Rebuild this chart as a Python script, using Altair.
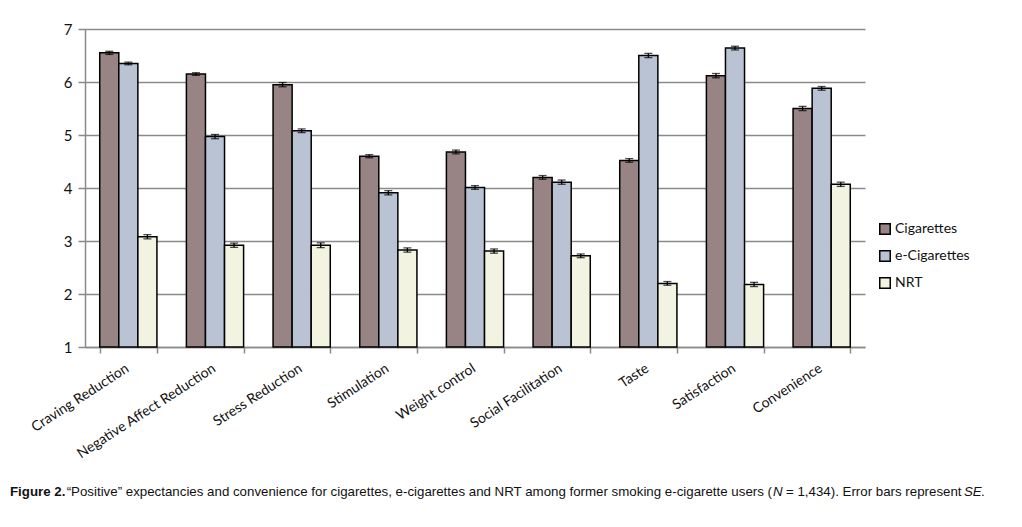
import altair as alt
import pandas as pd

categories = ["Craving Reduction", "Negative Affect Reduction", "Stress Reduction",
              "Stimulation", "Weight control", "Social Facilitation", "Taste",
              "Satisfaction", "Convenience"]
series = ["Cigarettes", "e-Cigarettes", "NRT"]
cigarettes = [6.55, 6.15, 5.95, 4.60, 4.68, 4.20, 4.52, 6.12, 5.50]
e_cigarettes = [6.35, 4.97, 5.08, 3.91, 4.01, 4.11, 6.50, 6.64, 5.88]
nrt = [3.08, 2.92, 2.92, 2.83, 2.81, 2.72, 2.20, 2.18, 4.07]
se_cig = [0.03, 0.025, 0.04, 0.03, 0.035, 0.035, 0.035, 0.04, 0.04]
se_ecig = [0.025, 0.04, 0.035, 0.04, 0.035, 0.04, 0.04, 0.035, 0.035]
se_nrt = [0.04, 0.04, 0.045, 0.04, 0.04, 0.035, 0.035, 0.04, 0.04]

rows = []
for s, vals, ses in zip(series, [cigarettes, e_cigarettes, nrt], [se_cig, se_ecig, se_nrt]):
    for c, v, e in zip(categories, vals, ses):
        rows.append({"category": c, "series": s, "value": v, "lo": v - e, "hi": v + e})
df = pd.DataFrame(rows)

FONT = "Lato"
W, H = 780, 318

xenc = alt.X("category:N", sort=categories, title=None,
             scale=alt.Scale(paddingInner=0.34, paddingOuter=0.17),
             axis=alt.Axis(labelAngle=-33, labelAlign="right", labelBaseline="top",
                           labelFontSize=14, labelFont=FONT, labelColor="#111",
                           tickBand="extent", tickSize=6, tickColor="#8a8a8a",
                           domainColor="#8a8a8a", domainWidth=1.5, tickWidth=1.5,
                           labelPadding=8, labelOffset=-5, grid=False, labelLimit=300))
xoff = alt.XOffset("series:N", sort=series)

bars = alt.Chart(df).mark_bar(stroke="black", strokeWidth=1.5).encode(
    x=xenc,
    xOffset=xoff,
    y=alt.Y("value:Q", title=None,
            scale=alt.Scale(domain=[1, 7], nice=False, zero=False),
            axis=alt.Axis(values=[1, 2, 3, 4, 5, 6, 7], labelFontSize=15, labelFont=FONT,
                          labelColor="#111", tickSize=7, tickColor="#8a8a8a", tickWidth=1.5,
                          domainColor="#8a8a8a", domainWidth=1.5, gridColor="#8a8a8a",
                          gridWidth=1.5, labelPadding=6)),
    y2=alt.datum(1),
    fill=alt.Fill("series:N", sort=series,
                  scale=alt.Scale(domain=series, range=["#988484", "#b9c3d3", "#f2f4e1"]),
                  legend=alt.Legend(title=None, orient="none", legendX=793, legendY=193,
                                    symbolType="square", symbolSize=110,
                                    symbolStrokeColor="black", symbolStrokeWidth=1.5,
                                    labelFontSize=14, labelFont=FONT, labelColor="#111",
                                    rowPadding=9, labelOffset=3)),
)

err = alt.Chart(df).mark_rule(color="black", strokeWidth=1.3).encode(
    x=alt.X("category:N", sort=categories), xOffset=xoff,
    y="lo:Q", y2="hi:Q")
cap_lo = alt.Chart(df).mark_tick(color="black", thickness=1.3, size=8, orient="horizontal").encode(
    x=alt.X("category:N", sort=categories), xOffset=xoff, y="lo:Q")
cap_hi = alt.Chart(df).mark_tick(color="black", thickness=1.3, size=8, orient="horizontal").encode(
    x=alt.X("category:N", sort=categories), xOffset=xoff, y="hi:Q")

cap_y = 492 - 29
cap_font = "Liberation Sans"
def cap(text, x, align="left", weight="normal", style="normal"):
    return alt.Chart(pd.DataFrame({"t": [text]})).mark_text(
        align=align, baseline="middle", fontSize=13.3, font=cap_font,
        fontWeight=weight, fontStyle=style, color="#111"
    ).encode(x=alt.value(x), y=alt.value(cap_y), text="t:N")

caption = (
    cap("Figure 2.", 10 - 85, weight="bold")
    + cap("\u201cPositive\u201d expectancies and convenience for cigarettes, e-cigarettes and NRT among former smoking e-cigarette users (", 772 - 85, align="right")
    + cap("N", 773 - 85, style="italic")
    + cap("= 1,434). Error bars represent", 786 - 85)
    + cap("SE", 964 - 85, style="italic")
    + cap(".", 981 - 85)
)

chart = alt.layer(bars, err, cap_lo, cap_hi, caption).properties(
    width=W, height=H,
    autosize=alt.AutoSizeParams(type="none"),
    padding={"left": 77, "top": 21, "right": 141, "bottom": 172},
    background="white",
).configure_view(stroke=None)

chart.save("out.html", embed_options={"renderer": "svg", "actions": False})
